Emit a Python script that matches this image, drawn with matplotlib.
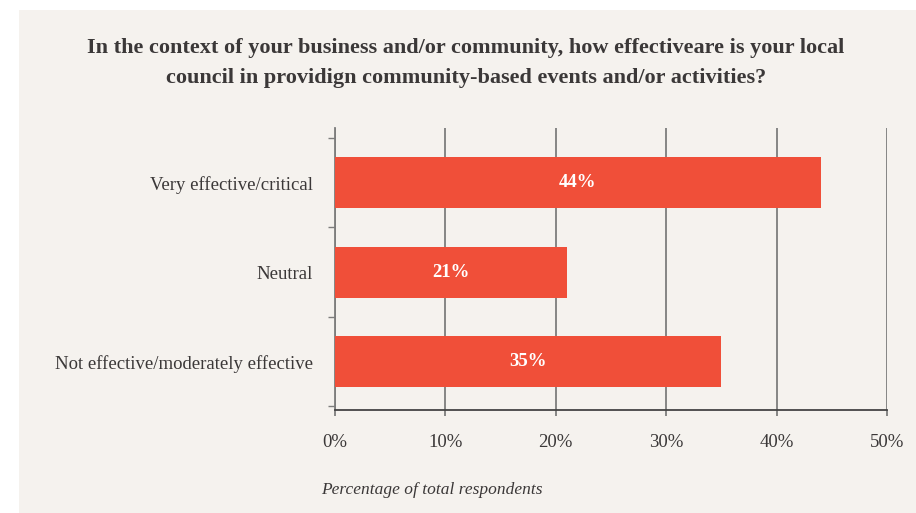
import matplotlib.pyplot as plt
from matplotlib.patches import Rectangle

# survey answers, top to bottom
categories = ["Very effective/critical", "Neutral", "Not effective/moderately effective"]
shares = [44, 21, 35]
xticks = [0, 10, 20, 30, 40, 50]

title = ("In the context of your business and/or community, how effectiveare is your local\n"
         "council in providign community-based events and/or activities?")
xlabel = "Percentage of total respondents"

BG = "#f5f2ee"
BAR = "#f04f39"
TXT = "#3b3838"
GRID = "#7d7d7d"

plt.rcParams["font.family"] = ["Liberation Serif", "DejaVu Serif"]

fig = plt.figure(figsize=(9.16, 5.13), dpi=100)
fig.patch.set_facecolor("white")
# beige panel behind the chart
fig.patches.append(Rectangle((19 / 916, 0), 1, 1 - 10 / 513, transform=fig.transFigure,
                             facecolor=BG, edgecolor="none", zorder=-10))

ax = fig.add_axes([335 / 916, 1 - 410 / 513, (887 - 335) / 916, (410 - 128) / 513])
ax.set_facecolor(BG)

ypos = list(range(len(categories)))
ax.barh(ypos, shares, height=0.57, color=BAR, zorder=3)
for y, v in zip(ypos, shares):
    ax.text(v / 2, y, f"{v}%", ha="center", va="center", color="white",
            fontsize=13.5, fontweight="bold", zorder=4)

ax.set_xlim(0, 50)
ax.set_ylim(2.54, -0.61)
ax.set_xticks(xticks)
ax.set_xticklabels([f"{t}%" for t in xticks], fontsize=13.5, color=TXT)
ax.set_yticks(ypos)
ax.set_yticklabels(categories, fontsize=13.5, color=TXT)
ax.set_yticks([-0.5, 0.5, 1.5, 2.5], minor=True)

ax.tick_params(axis="y", which="major", length=0, pad=16)
ax.tick_params(axis="y", which="minor", length=5, color=GRID, width=1)
ax.tick_params(axis="x", length=4, color=GRID, width=1.3, pad=13)

ax.grid(axis="x", color=GRID, linewidth=1.3, zorder=1)
for s in ["top", "right"]:
    ax.spines[s].set_visible(False)
ax.spines["left"].set_color(GRID)
ax.spines["left"].set_linewidth(1.3)
ax.spines["bottom"].set_color("#444444")
ax.spines["bottom"].set_linewidth(1.3)

ax.set_xlabel(xlabel, fontsize=12.5, style="italic", color=TXT)
ax.xaxis.set_label_coords(-0.025, -0.255)
ax.xaxis.label.set_ha("left")

fig.text(466 / 916, 1 - 63 / 513, title, ha="center", va="center", fontsize=16,
         fontweight="bold", color=TXT, linespacing=1.65)

fig.savefig("out.png", dpi=100, facecolor=fig.get_facecolor())
